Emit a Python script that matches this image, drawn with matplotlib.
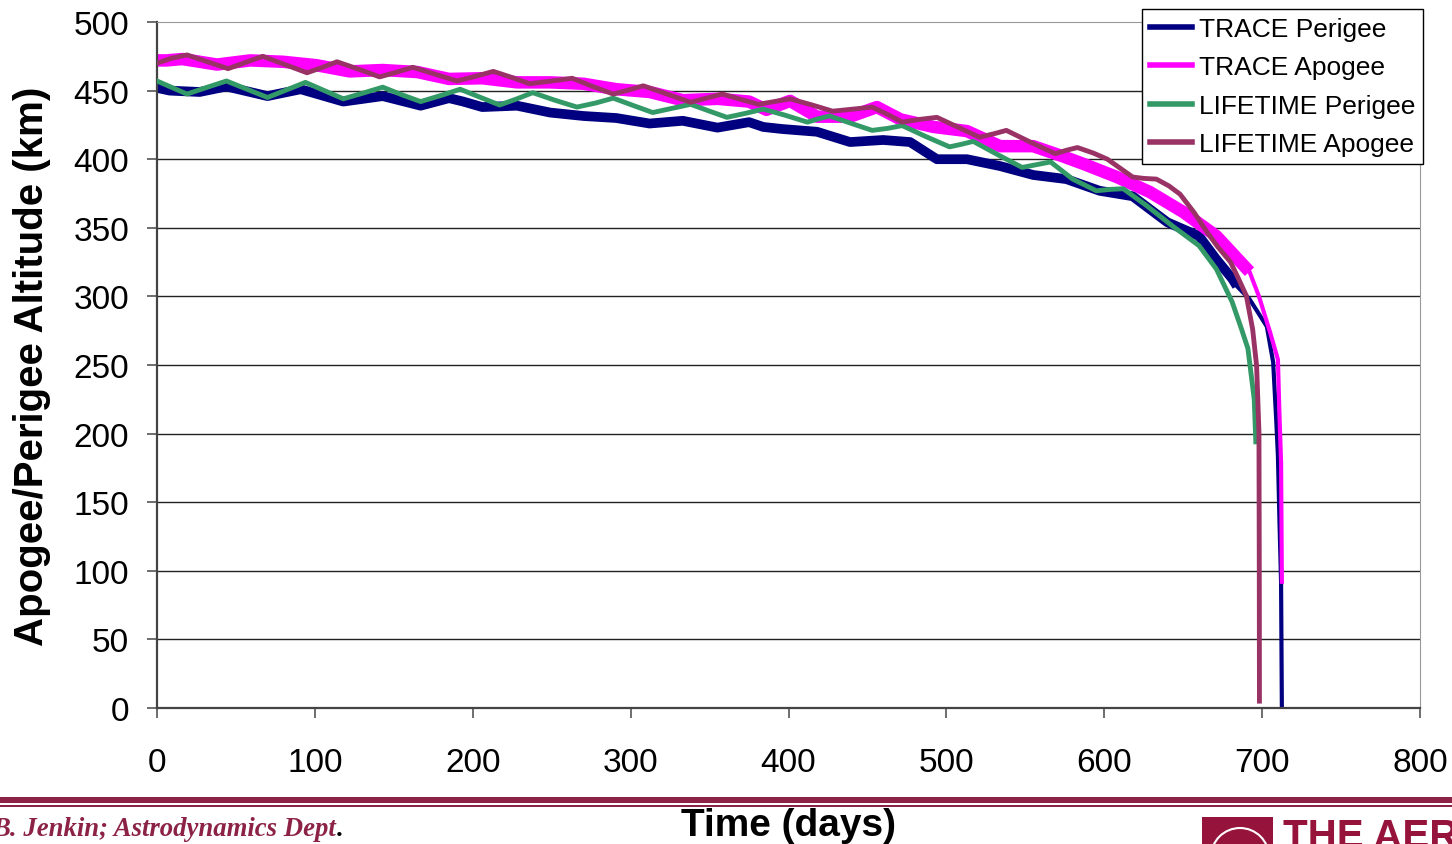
import matplotlib
matplotlib.use("Agg")
from matplotlib import pyplot as plt
import matplotlib.patches as mpatches

plt.rcParams['font.family'] = ['Liberation Sans', 'DejaVu Sans']

# TRACE perigee (centre of the noisy band), days / km
trace_per_days = [0, 8, 27, 44, 70, 91, 118, 143, 167, 185, 194, 206, 228, 249, 270, 291,
                  312, 333, 355, 375, 384, 396, 418, 439, 460, 477, 494, 513, 534, 555,
                  576, 597, 618, 640, 660, 671, 681, 684, 692, 697, 703, 707, 709, 710,
                  711, 712, 712.5]
trace_per_km = [452, 450, 449, 453, 446, 451, 442, 446, 439, 444.5, 442, 438, 439, 434, 431.5, 430,
                426, 428, 423, 427, 423.5, 422, 420, 412.5, 414, 412.5, 400, 400, 395, 388.5,
                385.5, 377, 373, 354, 344, 327, 313, 307.5, 298, 289, 278, 252, 208.5, 184,
                135.5, 92, 0]

# TRACE apogee
trace_apo_days = [0, 6, 16, 38, 59, 80, 101, 122, 143, 165, 185, 206, 228, 249, 270, 291,
                  312, 333, 355, 375, 386, 401, 418, 439, 456, 471, 492, 513, 534, 555,
                  574, 587, 608, 629, 650, 671, 692, 698, 705, 710, 711, 712, 712.5]
trace_apo_km = [472, 472, 473, 469, 472, 471, 468.5, 464, 465, 463.5, 458.5, 459, 456, 456, 455, 451,
                449, 443, 444, 442, 436, 442.5, 431, 431, 438, 429, 423.5, 420.5, 409.5, 409.5,
                402, 396.5, 387, 376, 361.5, 344, 318, 300, 274, 254, 213, 179, 92]

# LIFETIME perigee
life_per_days = [0, 10, 19, 32, 44, 57, 70, 82, 94, 106, 118, 130, 143, 155, 167, 180,
                 192, 205, 217, 228, 238, 252, 266, 278, 289, 302, 314, 326, 338, 350,
                 361, 373, 384, 398, 412, 419, 426, 440, 453, 463, 472, 487, 502, 510,
                 517, 533, 548, 557, 566, 580, 595, 604, 612, 627, 643, 660, 671, 681,
                 687, 691, 695, 696]
life_per_km = [457, 452, 447.5, 452.5, 457, 451, 445, 450.5, 456, 450, 444, 448, 452.5, 447, 442, 446.5,
               451, 445, 439.5, 444, 448.5, 443, 438, 441, 444.5, 439, 434, 437, 440, 435,
               430.5, 433.5, 436.5, 432, 427, 429.5, 431.5, 426, 421, 422.5, 424.5, 416.5, 409, 411,
               413, 403, 394, 396, 398, 385.5, 377, 378, 378.5, 366, 351.5, 337, 320, 296,
               276, 262, 225, 194]

# LIFETIME apogee
life_apo_days = [0, 9, 19, 32, 45, 56, 67, 81, 95, 105, 114, 128, 141, 152, 162, 176,
                 190, 202, 213, 225, 236, 250, 263, 276, 289, 299, 308, 323, 338, 348,
                 358, 370, 381, 391, 401, 415, 428, 441, 453, 463, 472, 483, 494, 508,
                 521, 530, 538, 554, 569, 576, 583, 593, 602, 610, 618, 625, 633, 641,
                 648, 657, 665, 672, 680, 685, 690, 694, 696.5, 698, 698.2, 698.3]
life_apo_km = [470, 473.5, 476, 471, 466, 470.5, 475, 469, 463, 467, 471, 465.5, 460, 463.5, 467, 462,
               457, 460.5, 464, 459.5, 455, 457, 459, 453, 447.5, 450.5, 453.5, 447.5, 441.5, 444.5,
               447.5, 443.5, 440, 442, 444, 439.5, 435, 436.5, 438, 432.5, 427, 429, 430.5, 423,
               416, 418.5, 421, 412, 404, 406.5, 408.5, 404.5, 400, 393.5, 387, 386, 385.5, 380.5,
               374.5, 361, 347, 336, 325, 313, 300.5, 276, 249.5, 201, 100, 5]

x_ticks = [0, 100, 200, 300, 400, 500, 600, 700, 800]
y_ticks = [0, 50, 100, 150, 200, 250, 300, 350, 400, 450, 500]

navy = '#000080'
magenta = '#FF00FF'
green = '#339966'
plum = '#993366'
maroon = '#8C2346'
logo_red = '#96143C'

fig = plt.figure(figsize=(14.52, 8.45), dpi=100)
ax = fig.add_axes([157 / 1452, 1 - 709 / 845, 1263 / 1452, 686 / 845])

# noisy band of the TRACE data, drawn thick while the orbit still decays slowly
n1 = sum(1 for d in trace_per_days if d <= 684)
n2 = sum(1 for d in trace_apo_days if d <= 692)
ax.plot(trace_per_days[:n1], trace_per_km[:n1], color=navy, lw=7, solid_capstyle='butt',
        solid_joinstyle='round', zorder=2)
ax.plot(trace_apo_days[:n2], trace_apo_km[:n2], color=magenta, lw=9, solid_capstyle='butt',
        solid_joinstyle='round', zorder=2.1)

ax.plot(trace_per_days, trace_per_km, color=navy, lw=3, label='TRACE Perigee', zorder=2,
        solid_joinstyle='round')
ax.plot(trace_apo_days, trace_apo_km, color=magenta, lw=3, label='TRACE Apogee', zorder=2.1,
        solid_joinstyle='round')
ax.plot(life_per_days, life_per_km, color=green, lw=3.5, label='LIFETIME Perigee', zorder=3,
        solid_joinstyle='round')
ax.plot(life_apo_days, life_apo_km, color=plum, lw=3.5, label='LIFETIME Apogee', zorder=3.1,
        solid_joinstyle='round')

ax.set_xlim(0, 800)
ax.set_ylim(0, 500)
ax.set_xticks(x_ticks)
ax.set_yticks(y_ticks)
ax.tick_params(axis='both', labelsize=24, length=7, width=1.2, color='#555555', direction='out')
ax.tick_params(axis='x', pad=21)
ax.tick_params(axis='y', pad=13)

for y in y_ticks[1:-1]:
    ax.axhline(y, color='#222222', lw=1, zorder=1)
ax.spines['top'].set_color('#999999')
ax.spines['right'].set_color('#999999')
ax.spines['left'].set_color('#444444')
ax.spines['bottom'].set_color('#444444')
ax.spines['left'].set_linewidth(1.6)
ax.spines['bottom'].set_linewidth(1.6)

ax.set_xlabel('Time (days)', fontsize=28, fontweight='bold')
ax.set_ylabel('Apogee/Perigee Altitude (km)', fontsize=29, fontweight='bold')
ax.xaxis.set_label_coords(0.5, (709 - 826) / 686, transform=ax.transAxes)
ax.xaxis.label.set_va('center')
ax.yaxis.set_label_coords((32 - 157) / 1263, 0.5, transform=ax.transAxes)
ax.yaxis.label.set_va('center')

leg = ax.legend(loc='upper right', bbox_to_anchor=(1423 / 1452, 1 - 10 / 845),
                bbox_transform=fig.transFigure, fontsize=19, handlelength=1.6,
                handletextpad=0.25, borderpad=0.3, labelspacing=0.55, borderaxespad=0,
                fancybox=False, framealpha=1, edgecolor='black')
leg.get_frame().set_linewidth(1)
for line in leg.get_lines():
    line.set_linewidth(4)

# footer band, author and logo
fig.add_artist(mpatches.Rectangle((0, 1 - 804 / 845), 1, 6 / 845, transform=fig.transFigure,
                                  color=maroon, lw=0))
fig.add_artist(mpatches.Rectangle((0, 1 - 808 / 845), 1, 2 / 845, transform=fig.transFigure,
                                  color=maroon, lw=0))
author = fig.text(-8 / 1452, 1 - 836 / 845, 'B. Jenkin; Astrodynamics Dept', family='Liberation Serif',
                  style='italic', fontweight='bold', fontsize=19.3, color=maroon, va='baseline')
r = fig.canvas.get_renderer()
bb = author.get_window_extent(renderer=r)
fig.text(bb.x1 / 1452 + 1 / 1452, 1 - 836 / 845, '.', family='Liberation Serif', style='italic',
         fontweight='bold', fontsize=19.3, color='black', va='baseline')
fig.add_artist(mpatches.Rectangle((1202 / 1452, 0), 71 / 1452, 27 / 845, transform=fig.transFigure,
                                  color=logo_red, lw=0))
fig.add_artist(mpatches.Ellipse((1240 / 1452, 1 - 858 / 845), 58 / 1452, 58 / 845,
                                transform=fig.transFigure, fill=False, edgecolor='white', lw=1.5))
fig.text(1283 / 1452, 1 - 848 / 845, 'THE AEROSPACE', fontsize=29, fontweight='bold',
         color=logo_red, va='baseline')

fig.savefig('out.png', dpi=100)
